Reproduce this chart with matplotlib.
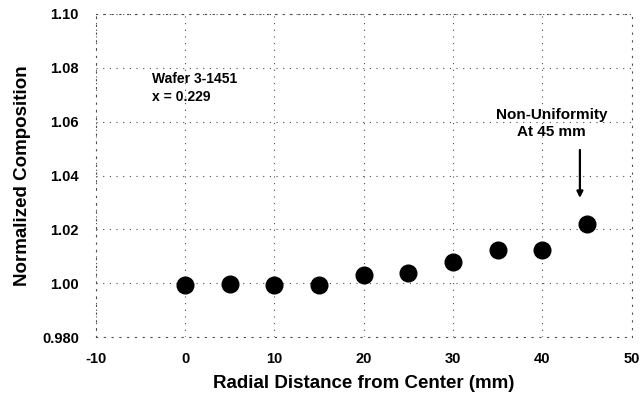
import numpy as np
import matplotlib
matplotlib.use('Agg')
import matplotlib.pyplot as plt
import matplotlib.ticker as ticker

radius_mm = [0, 5, 10, 15, 20, 25, 30, 35, 40, 45]
composition = [0.9993, 0.9996, 0.9993, 0.9993, 1.0032, 1.0039, 1.0078, 1.0125, 1.0123, 1.0219]
y_ticks = [0.98, 1.00, 1.02, 1.04, 1.06, 1.08, 1.10]
y_tick_labels = ['0.980', '1.00', '1.02', '1.04', '1.06', '1.08', '1.10']
x_ticks = [-10, 0, 10, 20, 30, 40, 50]

plt.rcParams['font.family'] = ['Liberation Sans', 'DejaVu Sans']

fig = plt.figure(figsize=(6.42, 3.99), dpi=100)
axes = fig.add_axes([0.149, 0.155, 0.835, 0.81])

dot_style = dict(color='0.3', linestyle=(0, (1, 5)), linewidth=0.8)
axes.grid(True, **dot_style)
for side in ['left', 'right', 'top', 'bottom']:
    axes.spines[side].set_linestyle((0, (1, 6)))
    axes.spines[side].set_linewidth(0.8)
    axes.spines[side].set_color('0.3')

axes.plot(radius_mm, composition, linestyle='none', marker='o', markersize=12,
          color='black', zorder=3)

axes.set_xlim(-10, 50)
axes.set_ylim(0.98, 1.10)
axes.xaxis.set_major_locator(ticker.FixedLocator(x_ticks))
axes.yaxis.set_major_locator(ticker.FixedLocator(y_ticks))
axes.yaxis.set_major_formatter(ticker.FixedFormatter(y_tick_labels))
axes.xaxis.set_major_formatter(ticker.FuncFormatter(lambda v, p: f'{v:g}'.replace('\u2212', '-')))
axes.tick_params(axis='both', length=0, labelsize=10.5)
axes.tick_params(axis='x', pad=11)
axes.tick_params(axis='y', pad=12)
for label in axes.get_xticklabels() + axes.get_yticklabels():
    label.set_fontweight('bold')

axes.set_xlabel('Radial Distance from Center (mm)', fontsize=13.5, fontweight='bold', labelpad=6)
axes.set_ylabel('Normalized Composition', fontsize=13.5, fontweight='bold', labelpad=8)

axes.text(-3.7, 1.0726, 'Wafer 3-1451\nx = 0.229', fontsize=10, fontweight='bold',
          ha='left', va='center', linespacing=1.35)
axes.text(41.0, 1.0592, 'Non-Uniformity\nAt 45 mm', fontsize=11, fontweight='bold',
          ha='center', va='center', linespacing=1.3)
axes.annotate('', xy=(44.2, 1.0317), xytext=(44.2, 1.0495),
              arrowprops=dict(arrowstyle='-|>', color='black', lw=1.6, mutation_scale=9,
                              shrinkA=0, shrinkB=0))

plt.savefig('out.png', dpi=100)
